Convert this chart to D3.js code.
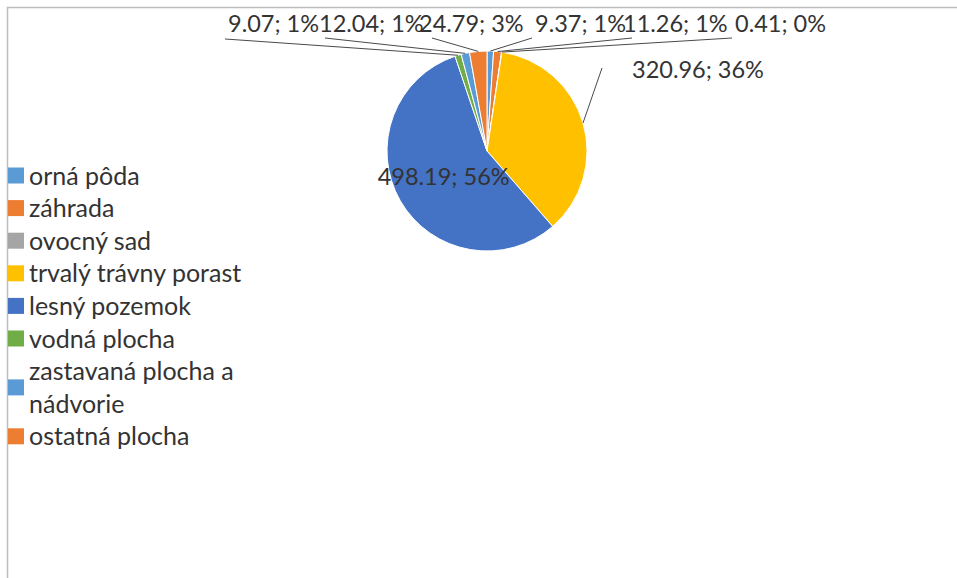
<!DOCTYPE html>
<html>
<head>
<meta charset="utf-8">
<script src="https://cdn.jsdelivr.net/npm/d3@7"></script>
<style>
  html, body { margin: 0; padding: 0; background: #fff; }
  svg { display: block; }
  text { font-family: "Lato", "Open Sans", sans-serif; fill: #333; }
</style>
</head>
<body>
<svg id="chart" width="957" height="578"></svg>
<script>
// ---- data ----
const categories = ["orná pôda", "záhrada", "ovocný sad", "trvalý trávny porast", "lesný pozemok", "vodná plocha", "zastavaná plocha a nádvorie", "ostatná plocha"];
const values = [9.37, 11.26, 0.41, 320.96, 498.19, 9.07, 12.04, 24.79];
const colors = ["#5B9BD5", "#ED7D31", "#A5A5A5", "#FFC000", "#4472C4", "#70AD47", "#5B9BD5", "#ED7D31"];
const legendLines = [["orná pôda"], ["záhrada"], ["ovocný sad"], ["trvalý trávny porast"], ["lesný pozemok"], ["vodná plocha"], ["zastavaná plocha a", "nádvorie"], ["ostatná plocha"]];

// ---- layout (label placement, Excel-like) ----
const labelLayout = [
  { x: 535, y: 32, lx: 532, ly: 38 },
  { x: 623, y: 32, lx: 632, ly: 38 },
  { x: 735, y: 32, lx: 732, ly: 38 },
  { x: 632, y: 78, lx: 602, ly: 68 },
  { inside: true },
  { x: 228, y: 32, lx: 225, ly: 39 },
  { x: 319, y: 32, lx: 325, ly: 38 },
  { x: 419, y: 32, lx: 432, ly: 38 }
];

const svg = d3.select("#chart");
const W = 957, H = 578;

// frame
svg.append("rect")
  .attr("x", 7.5).attr("y", 7.5)
  .attr("width", W + 20).attr("height", H + 20)
  .attr("fill", "none").attr("stroke", "#bdbdbd").attr("stroke-width", 1.5);

const cx = 487, cy = 151, R = 100;
const total = d3.sum(values);
const pie = d3.pie().sort(null).value(d => d);
const arcs = pie(values);
const arc = d3.arc().innerRadius(0).outerRadius(R);
const edgeArc = d3.arc().innerRadius(R).outerRadius(R);
const centArc = d3.arc().innerRadius(0).outerRadius(R);

const g = svg.append("g").attr("transform", `translate(${cx},${cy})`);
g.selectAll("path.slice").data(arcs).enter().append("path")
  .attr("class", "slice")
  .attr("d", arc)
  .attr("fill", (d, i) => colors[i])
  .attr("stroke", "#fff").attr("stroke-width", 1);

const fmt = v => d3.format(".2f")(v);
const pct = v => Math.round(v / total * 100) + "%";

// leader lines
arcs.forEach((d, i) => {
  const L = labelLayout[i];
  if (L.inside) return;
  const p = edgeArc.centroid(d);
  svg.append("line")
    .attr("x1", L.lx).attr("y1", L.ly)
    .attr("x2", cx + p[0]).attr("y2", cy + p[1])
    .attr("stroke", "#4a4a4a").attr("stroke-width", 1);
});

// labels
arcs.forEach((d, i) => {
  const L = labelLayout[i];
  const txt = fmt(values[i]) + "; " + pct(values[i]);
  if (L.inside) {
    const c = centArc.centroid(d);
    svg.append("text")
      .attr("x", cx + c[0]).attr("y", cy + c[1])
      .attr("text-anchor", "middle").attr("dominant-baseline", "central")
      .style("font-size", "23.5px").text(txt);
  } else {
    svg.append("text")
      .attr("x", L.x).attr("y", L.y)
      .style("font-size", "23.5px").text(txt);
  }
});

// legend
const rowH = 32.6, row0 = 174.5;
let line = 0;
categories.forEach((c, i) => {
  const lines = legendLines[i];
  const yTop = row0 + line * rowH;
  const yMid = yTop + (lines.length - 1) * rowH / 2;
  svg.append("rect")
    .attr("x", 8).attr("y", yMid - 7)
    .attr("width", 16).attr("height", 16)
    .attr("fill", colors[i]);
  lines.forEach((t, k) => {
    svg.append("text")
      .attr("x", 29).attr("y", yTop + k * rowH)
      .attr("dominant-baseline", "central")
      .style("font-size", "25px").text(t);
  });
  line += lines.length;
});
</script>
</body>
</html>
